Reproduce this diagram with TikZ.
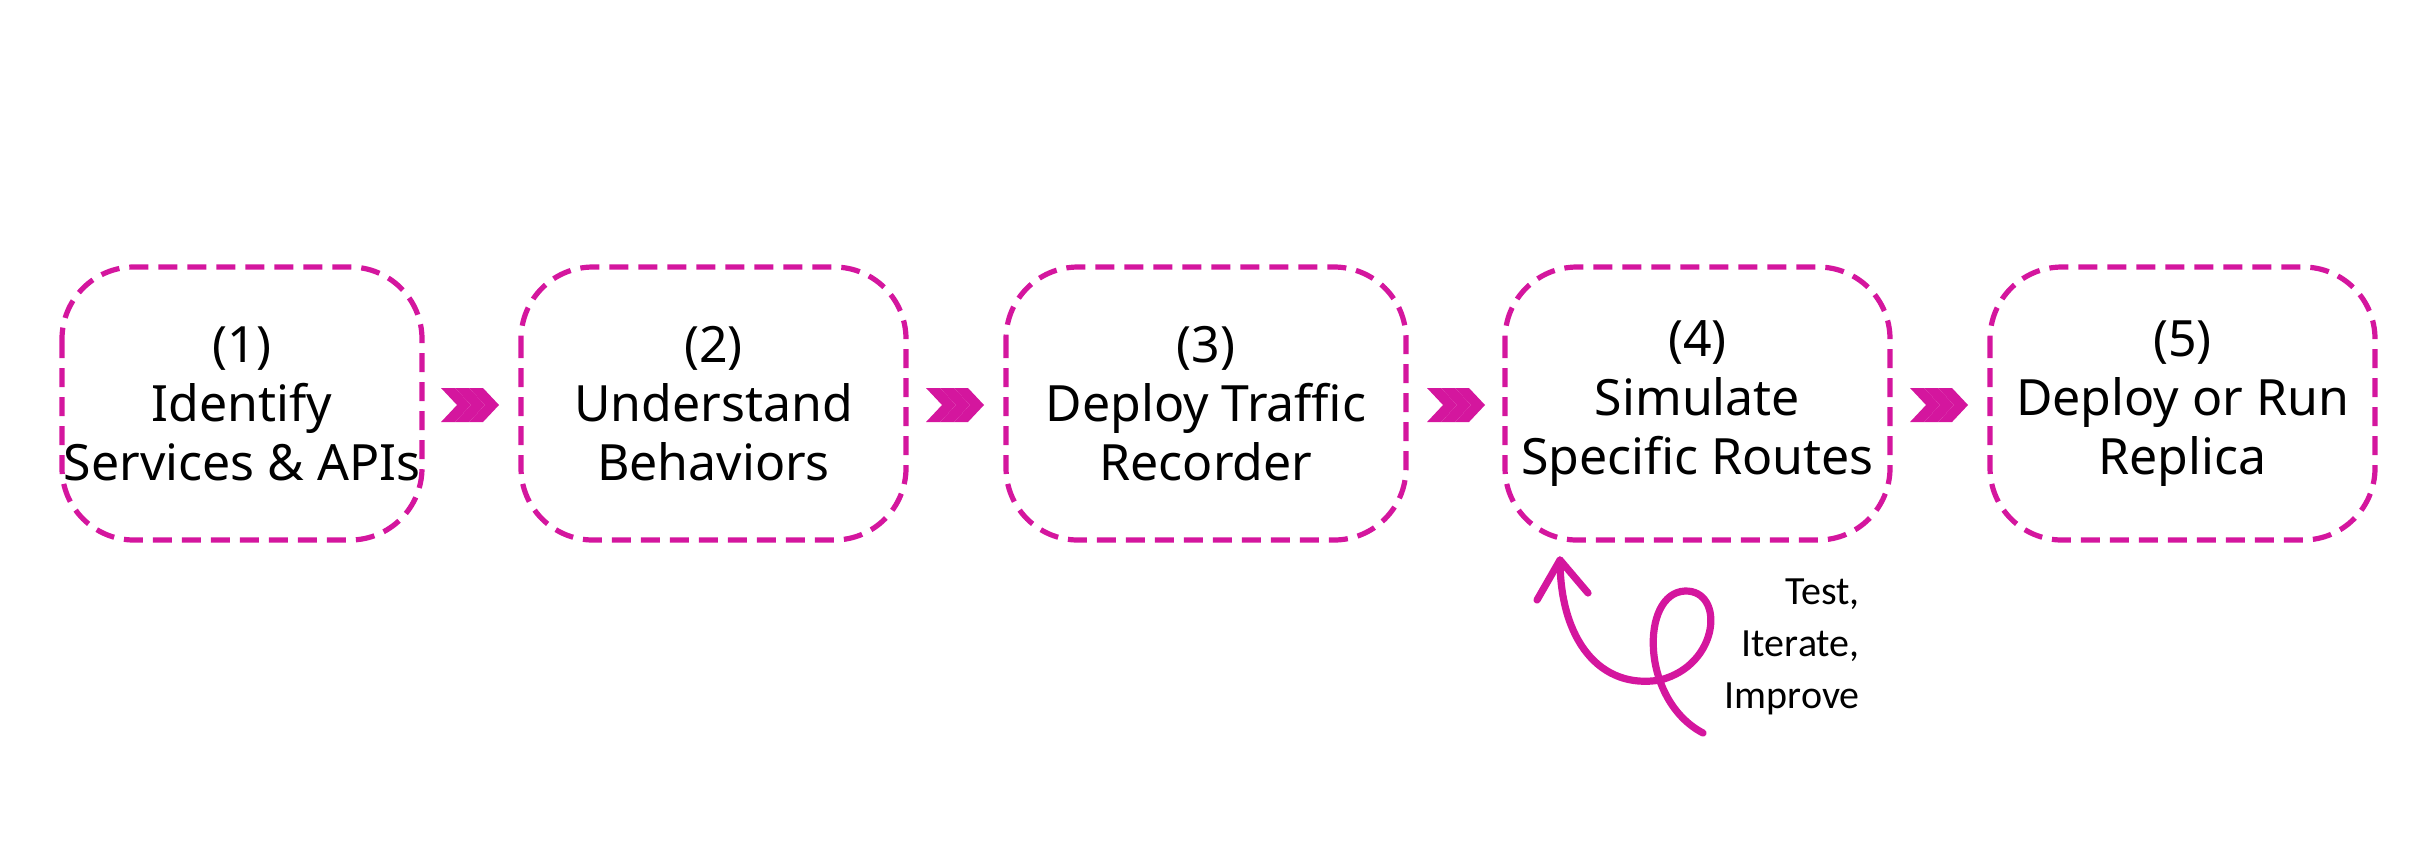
\documentclass[tikz,border=0pt]{standalone}
\usepackage{fontspec}
\setmainfont{Noto Sans}
\newfontfamily\hand{Carlito}
\definecolor{mag}{HTML}{D4169E}
\begin{document}
\begin{tikzpicture}[x=0.5pt,y=-0.5pt,
 stepbox/.style={draw=mag,line width=2.6pt,dash pattern=on 9.5pt off 5pt,rounded corners=36pt},
 steptext/.style={align=center,inner sep=0pt,font=\fontsize{25}{29.5}\selectfont\bfseries},
 chev/.style={fill=mag,draw=none}]
\useasboundingbox (0,0) rectangle (2434,864);
\def\bx#1#2#3#4{\draw[stepbox] (#2,267) rectangle (#3,540); \node[steptext] (#1) at ({(#2+#3)/2},404) {#4};}
\bx{a}{62}{422}{(1)\\Identify\\Services \& APIs}
\bx{b}{521}{906}{(2)\\Understand\\Behaviors}
\bx{c}{1006}{1406}{(3)\\Deploy Traffic\\Recorder}
\bx{d}{1505}{1890}{(4)\\Simulate\\Specific Routes}
\bx{e}{1990}{2375}{(5)\\Deploy or Run\\Replica}
\foreach \x in {441,926,1427,1910}{
 \foreach \k in {0,1,2}{
  \fill[chev] ({\x+\k*14},388) -- ({\x+\k*14+14},388) -- ({\x+\k*14+30},405) -- ({\x+\k*14+14},422) -- ({\x+\k*14},422) -- ({\x+\k*14+16},405) -- cycle;}}
\coordinate (tip) at (1560,560);
\draw[mag,line width=3.6pt,line cap=round,line join=round] (1703,733) .. controls (1640,700) and (1640,593) .. (1685,591) .. controls (1725,590) and (1720,665) .. (1660,680) .. controls (1600,690) and (1560,640) .. (tip);
\draw[mag,line width=3.6pt,line cap=round,line join=round] (1537,600) -- (tip) -- (1588,593);
\node[anchor=north east,align=right,inner sep=0pt,font=\hand\fontsize{20}{26}\selectfont] (t) at (1860,578) {Test,\\Iterate,\\Improve};
\end{tikzpicture}
\end{document}
